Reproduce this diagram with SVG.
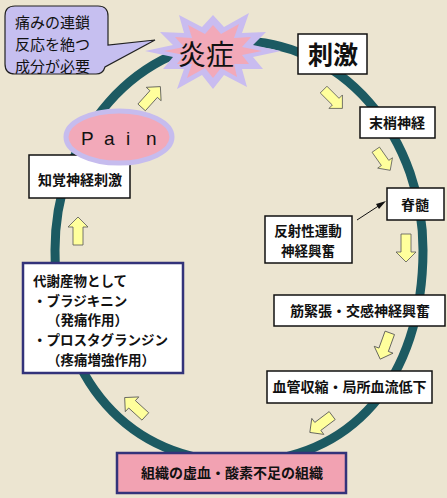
<svg xmlns="http://www.w3.org/2000/svg" width="447" height="498" viewBox="0 0 447 498">
<defs>
<style>
.t{font-family:"Noto Sans CJK JP","Noto Sans",sans-serif;fill:#111;}
.b{font-weight:bold;font-size:14px;}
.s{font-size:13.5px;}
.box{fill:#fff;stroke:#111;stroke-width:1.5;}
.nbox{stroke:#33337a;stroke-width:2.5;}
.arr{fill:#ffff9c;stroke:#555;stroke-width:0.8;}
</style>
<polygon id="ar" points="0,-14 10,-4 5,-4 5,14 -5,14 -5,-4 -10,-4"/>
</defs>
<rect width="447" height="498" fill="#ece5d1"/>
<g id="connectors">
<path d="M 55,250 A 184 209 0 0 1 423,250 C 423,380 350,462 240,462 C 130,462 55,380 55,250 Z" fill="none" stroke="#1c5a62" stroke-width="9"/>
<line x1="357" y1="220" x2="380" y2="205" stroke="#111" stroke-width="1"/>
<polygon points="386,201 376,204 379,209" fill="#111"/>
<g class="arr">
<use href="#ar" transform="translate(151,97) rotate(42)"/>
<use href="#ar" transform="translate(333,99) rotate(135) scale(0.95)"/>
<use href="#ar" transform="translate(383,160) rotate(145) scale(0.9)"/>
<use href="#ar" transform="translate(406,248) rotate(180)"/>
<use href="#ar" transform="translate(385,346) rotate(200)"/>
<use href="#ar" transform="translate(321,424) rotate(233)"/>
<use href="#ar" transform="translate(135,407) rotate(-47.6)"/>
<use href="#ar" transform="translate(78,231)"/>
</g>
</g>
<g id="callout">
<path d="M 15,6 H 98 Q 108,6 108,16 V 45 L 155,40 L 105,67 Q 103,74 96,74 H 15 Q 5,74 5,64 V 16 Q 5,6 15,6 Z" fill="#c6bff0" stroke="#222" stroke-width="1.2"/>
<text class="t" font-size="15"><tspan x="15" y="28">痛みの連鎖</tspan><tspan x="15" y="50">反応を絶つ</tspan><tspan x="15" y="72">成分が必要</tspan></text>
</g>
<g id="inflammation">
<polygon fill="#c9bcf0" points="281,51 253,57 263,69 242,69 247,87 224,75 213,89 202,75 177,89 184,69 163,69 173,57 145,51 173,45 160,32 184,33 179,15 202,27 213,15 224,27 249,13 242,33 266,32 253,45"/>
<polygon fill="#f2a9b9" points="262,51 242,55 249,64 234,64 237,77 221,68 213,78 205,68 187,78 192,64 177,64 184,55 164,51 184,47 175,37 192,38 188,25 205,34 213,25 221,34 239,24 234,38 251,37 242,47"/>
<text class="t" font-size="28" x="206" y="65" text-anchor="middle">炎症</text>
</g>
<g id="stimulus">
<rect class="box" x="298" y="34" width="69" height="40"/>
<text class="t" font-size="25" font-weight="bold" x="333" y="64" text-anchor="middle">刺激</text>
</g>
<g id="peripheral">
<rect class="box" x="360" y="107" width="75" height="31"/>
<text class="t b" x="397" y="128" text-anchor="middle">末梢神経</text>
</g>
<g id="spinal">
<rect class="box" x="387" y="188" width="57" height="32"/>
<text class="t b" x="415" y="210" text-anchor="middle">脊髄</text>
</g>
<g id="reflex">
<rect class="box" x="265" y="216" width="87" height="47"/>
<text class="t b s" text-anchor="middle"><tspan x="308" y="235.5">反射性運動</tspan><tspan x="308" y="255.5">神経興奮</tspan></text>
</g>
<g id="muscle">
<rect class="box" x="274" y="295" width="171" height="31"/>
<text class="t b" x="360" y="316" text-anchor="middle">筋緊張・交感神経興奮</text>
</g>
<g id="vessel">
<rect class="box" x="267" y="371" width="165" height="32"/>
<text class="t b" x="349.5" y="392" text-anchor="middle">血管収縮・局所血流低下</text>
</g>
<g id="ischemia">
<rect x="117" y="453" width="229" height="40" fill="#f2a2b2" class="nbox"/>
<text class="t b" x="232" y="478" text-anchor="middle">組織の虚血・酸素不足の組織</text>
</g>
<g id="metabolites">
<rect x="23" y="263" width="160" height="110" fill="#fff" class="nbox"/>
<text class="t b s"><tspan x="33" y="286">代謝産物として</tspan><tspan x="33" y="305.7">・ブラジキニン</tspan><tspan x="47" y="325.4">（発痛作用）</tspan><tspan x="33" y="345.1">・プロスタグランジン</tspan><tspan x="47" y="364.8">（疼痛増強作用）</tspan></text>
</g>
<g id="sensory">
<rect class="box" x="29" y="155" width="101" height="43"/>
<text class="t b" x="80" y="185" text-anchor="middle">知覚神経刺激</text>
</g>
<g id="pain">
<ellipse cx="119" cy="137" rx="53" ry="26" fill="#f2a9b9" stroke="#c6bcee" stroke-width="5"/>
<text font-family="Liberation Sans, Arial, sans-serif" font-size="19" fill="#111" x="81 104 126 146" y="145">Pain</text>
</g>
</svg>
